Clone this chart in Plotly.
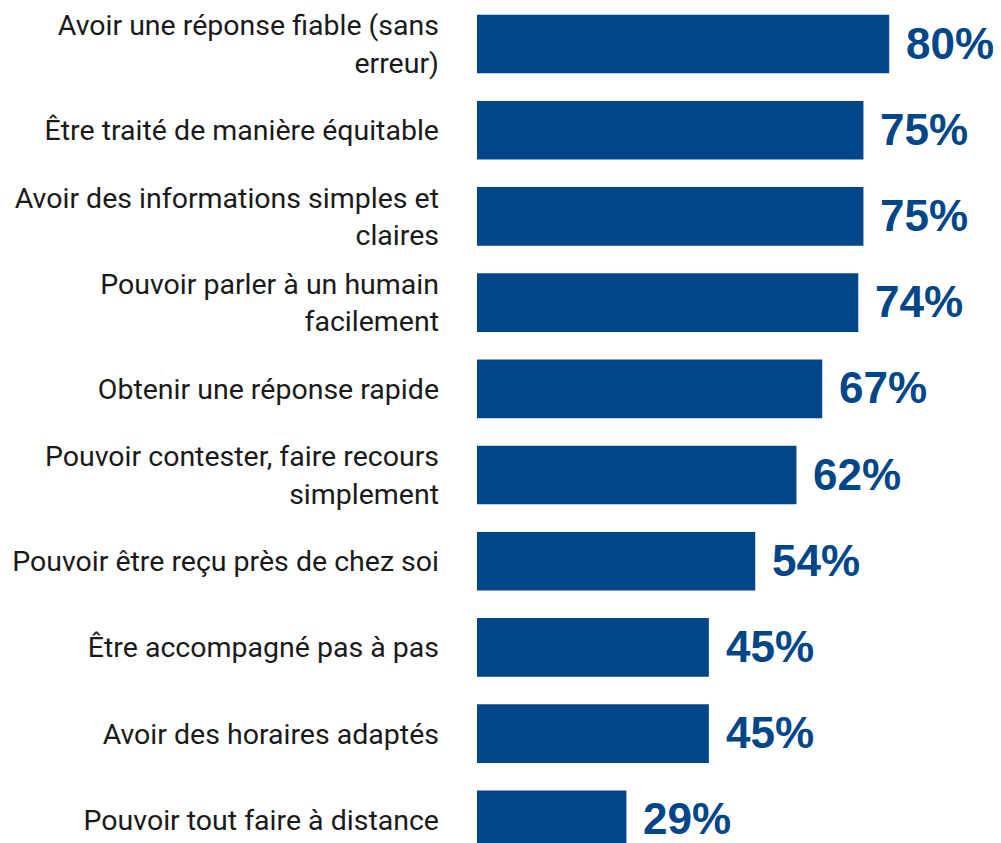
import plotly.graph_objects as go

categories = [
    "Avoir une réponse fiable (sans<br>erreur)",
    "Être traité de manière équitable",
    "Avoir des informations simples et<br>claires",
    "Pouvoir parler à un humain<br>facilement",
    "Obtenir une réponse rapide",
    "Pouvoir contester, faire recours<br>simplement",
    "Pouvoir être reçu près de chez soi",
    "Être accompagné pas à pas",
    "Avoir des horaires adaptés",
    "Pouvoir tout faire à distance",
]
values = [80, 75, 75, 74, 67, 62, 54, 45, 45, 29]
value_labels = [f"{v}%" for v in values]

BLUE = "#02468A"

fig = go.Figure(
    go.Bar(
        x=values,
        y=categories,
        orientation="h",
        marker=dict(color=BLUE, line=dict(width=0)),
        width=0.68,
        hoverinfo="skip",
    )
)

for c, v, t in zip(categories, values, value_labels):
    fig.add_annotation(
        x=v, y=c, text=f"<b>{t}</b>", showarrow=False,
        xanchor="left", yanchor="middle", xshift=15, yshift=1,
        font=dict(family="Liberation Sans, Arial, sans-serif", size=44, color=BLUE),
    )

fig.update_layout(
    width=993, height=835,
    margin=dict(l=469, r=0, t=0, b=0),
    paper_bgcolor="white", plot_bgcolor="white",
    showlegend=False,
    font=dict(family="Roboto, sans-serif", size=28, color="#1a1a1a"),
    xaxis=dict(range=[0, 101.7], visible=False, fixedrange=True),
    yaxis=dict(
        type="category",
        categoryorder="array", categoryarray=categories,
        range=[9.269, -0.418], autorange=False,
        showgrid=False, zeroline=False, showline=False, ticks="",
        ticklabelstandoff=37,
        tickfont=dict(family="Roboto, sans-serif", size=28.5, color="#1a1a1a"),
    ),
)

fig.write_html("out.html")
